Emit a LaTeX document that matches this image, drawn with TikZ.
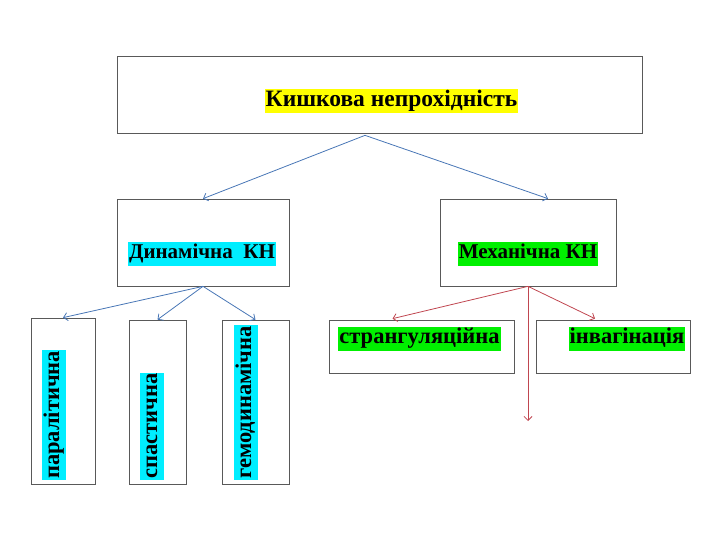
\documentclass[tikz,border=0pt]{standalone}
\usepackage{fontspec}
\setmainfont{Liberation Serif}
\usetikzlibrary{arrows.meta, calc}
\definecolor{linkblue}{RGB}{72, 118, 182}
\definecolor{linkred}{RGB}{192, 70, 80}
\definecolor{hlyellow}{RGB}{255, 255, 0}
\definecolor{hlcyan}{RGB}{0, 238, 255}
\definecolor{hlgreen}{RGB}{0, 240, 0}

\begin{document}
\begin{tikzpicture}[
    x=1pt, y=-1pt,
    box/.style={rectangle, draw=gray!70!black, line width=0.7pt, fill=white, inner sep=0pt},
    hl/.style={inner xsep=1pt, inner ysep=1pt, text height=16pt, text depth=6pt, font=\fontsize{22.5}{26}\selectfont\bfseries},
    link/.style={-{Straight Barb[length=4pt, width=8pt]}, line width=0.8pt},
]
\useasboundingbox (0,0) rectangle (720,540);

% Top box
\node[box, minimum width=525pt, minimum height=77pt] (top) at (379.5, 94.5) {};
\node[hl, fill=hlyellow, font=\fontsize{23.5}{27}\selectfont\bfseries] (toptxt) at (391.5, 101.5) {Кишкова непрохідність};

% Second level
\node[box, minimum width=172pt, minimum height=87pt] (dyn) at (203, 242.5) {};
\node[hl, fill=hlcyan, font=\fontsize{21}{25}\selectfont\bfseries] (dyntxt) at (202, 253.5) {Динамічна\ \ КН};
\node[box, minimum width=176pt, minimum height=87pt] (mech) at (528, 242.5) {};
\node[hl, fill=hlgreen, font=\fontsize{21}{25}\selectfont\bfseries] (mechtxt) at (528, 253.5) {Механічна КН};

% Dynamic subtypes
\node[box, minimum width=64pt, minimum height=166pt] (par) at (63, 401) {};
\node[hl, fill=hlcyan, rotate=90, anchor=west] (partxt) at (54, 480) {паралітична};
\node[box, minimum width=57pt, minimum height=164pt] (spas) at (157.5, 402) {};
\node[hl, fill=hlcyan, rotate=90, anchor=west] (spastxt) at (152, 480) {спастична};
\node[box, minimum width=67pt, minimum height=164pt] (gemo) at (255.5, 402) {};
\node[hl, fill=hlcyan, rotate=90, anchor=west] (gemotxt) at (246, 480) {гемодинамічна};

% Mechanical subtypes
\node[box, minimum width=185pt, minimum height=53pt] (strang) at (421.5, 346.5) {};
\node[hl, fill=hlgreen] (strangtxt) at (419.5, 338.5) {странгуляційна};
\node[box, minimum width=154pt, minimum height=53pt] (invag) at (613, 346.5) {};
\node[hl, fill=hlgreen] (invagtxt) at (627, 338.5) {інвагінація};

% Connector points
\coordinate (topfork) at ($(top.south)+(-14.5,2)$);
\coordinate (mechend) at ($(mech.north)+(20,0)$);
\coordinate (strangend) at ($(strang.north)+(-29,-1)$);
\coordinate (invagend) at ($(invag.north)+(-18,-1)$);
\coordinate (down) at (528, 421);

% Arrows
\draw[link, linkblue] (topfork) -- (dyn.north);
\draw[link, linkblue] (topfork) -- (mechend);
\draw[link, linkblue] (dyn.south) -- (par.north);
\draw[link, linkblue] (dyn.south) -- (spas.north);
\draw[link, linkblue] (dyn.south) -- (gemo.north);
\draw[link, linkred] (mech.south) -- (strangend);
\draw[link, linkred] (mech.south) -- (invagend);
\draw[link, linkred] (mech.south) -- (down);

\end{tikzpicture}
\end{document}
